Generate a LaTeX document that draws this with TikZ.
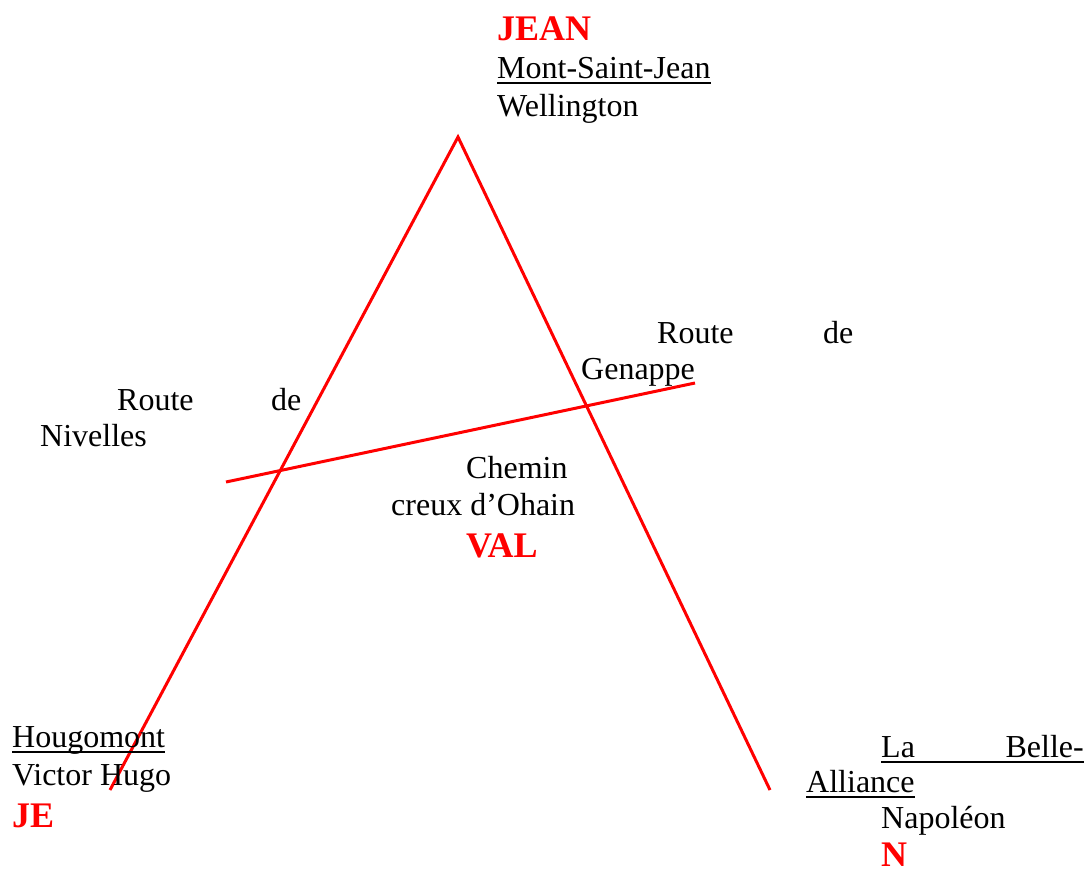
\documentclass[tikz,border=0pt]{standalone}
\usepackage{fontspec}
\setmainfont{Liberation Serif}
\begin{document}
\begin{tikzpicture}[x=1pt,y=-1pt,
  lbl/.style={inner sep=0pt,anchor=base west,font=\fontsize{32}{38}\selectfont},
  key/.style={inner sep=0pt,anchor=base west,text=red,font=\fontsize{36}{42}\selectfont\bfseries},
  road/.style={draw=red,line width=3pt},
  uline/.style={draw=black,line width=1.6pt}]
\useasboundingbox (0,0) rectangle (1087,870);

% the letter A: two legs and the cross road
\coordinate (apex) at (458,137);
\coordinate (footL) at (110,790);
\coordinate (footR) at (770,790);
\coordinate (barL) at (226,482);
\coordinate (barR) at (695,383);
\draw[road] (footL) -- (apex) -- (footR);
\draw[road] (barL) -- (barR);

% top
\node[key] (jean) at (497,40) {JEAN};
\node[lbl] (msj) at (497,78) {Mont-Saint-Jean};
\node[lbl] (well) at (497,116) {Wellington};
\draw[uline] ([yshift=-5pt]msj.base west) -- ([yshift=-5pt]msj.base east);

% Nivelles road
\node[lbl] (rn1) at (117,410) {Route};
\node[lbl] (rn2) at (271,410) {de};
\node[lbl] (rn3) at (40,446) {Nivelles};

% Genappe road
\node[lbl] (rg1) at (657,343) {Route};
\node[lbl] (rg2) at (823,343) {de};
\node[lbl] (rg3) at (581,379) {Genappe};

% centre
\node[lbl] (ch1) at (466,478) {Chemin};
\node[lbl] (ch2) at (391,515) {creux d’Ohain};
\node[key] (val) at (466,557) {VAL};

% bottom left
\node[lbl] (houg) at (12,747) {Hougomont};
\node[lbl] (hugo) at (12,785) {Victor Hugo};
\node[key] (je) at (12,827) {JE};
\draw[uline] ([yshift=-5pt]houg.base west) -- ([yshift=-5pt]houg.base east);

% bottom right
\node[lbl] (la) at (881,757) {La};
\node[lbl,anchor=base east] (belle) at (1084,757) {Belle-};
\node[lbl] (all) at (806,792) {Alliance};
\node[lbl] (nap) at (881,828) {Napoléon};
\node[key] (nn) at (881,866) {N};
\draw[uline] ([yshift=-5pt]la.base west) -- ([yshift=-5pt]belle.base east);
\draw[uline] ([yshift=-5pt]all.base west) -- ([yshift=-5pt]all.base east);
\end{tikzpicture}
\end{document}
